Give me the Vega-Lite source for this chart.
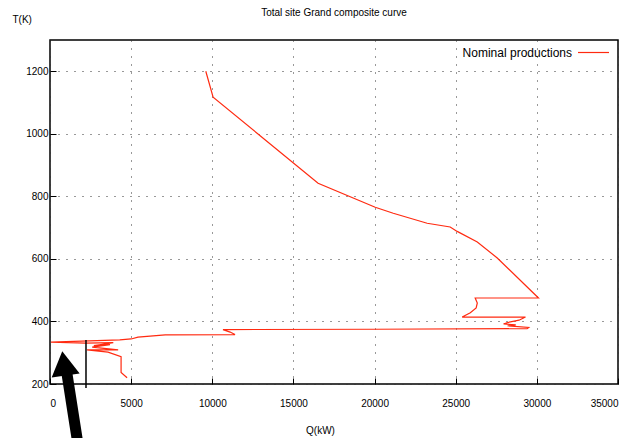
{
  "$schema": "https://vega.github.io/schema/vega-lite/v6.json",
  "width": 568,
  "height": 344,
  "autosize": {"type": "none"},
  "padding": {"left": 50, "top": 40, "right": 24, "bottom": 54},
  "background": "white",
  "config": {
    "font": "Liberation Sans",
    "view": {"stroke": "black", "strokeWidth": 1.5},
    "axis": {
      "labelFont": "Liberation Sans",
      "labelFontSize": 10,
      "labelColor": "black",
      "titleFont": "Liberation Sans",
      "titleFontSize": 10,
      "titleFontWeight": "normal",
      "titleColor": "black",
      "domain": false,
      "tickColor": "black",
      "tickSize": -6,
      "tickWidth": 1,
      "grid": true,
      "gridColor": "#333333",
      "gridDash": [1, 7],
      "gridWidth": 1,
      "gridOpacity": 1
    }
  },
  "title": {
    "text": "Total site Grand composite curve",
    "font": "Liberation Sans",
    "fontSize": 10,
    "fontWeight": "normal",
    "color": "black",
    "anchor": "middle",
    "frame": "group",
    "offset": -4
  },
  "datasets": {
    "curve": [
      {"i": 1, "Q": 9600, "T": 1200, "s": "Nominal productions"},
      {"i": 2, "Q": 10050, "T": 1117, "s": "Nominal productions"},
      {"i": 3, "Q": 12760, "T": 1002, "s": "Nominal productions"},
      {"i": 4, "Q": 16520, "T": 842, "s": "Nominal productions"},
      {"i": 5, "Q": 20040, "T": 765, "s": "Nominal productions"},
      {"i": 6, "Q": 21150, "T": 746, "s": "Nominal productions"},
      {"i": 7, "Q": 23240, "T": 714, "s": "Nominal productions"},
      {"i": 8, "Q": 24660, "T": 702, "s": "Nominal productions"},
      {"i": 9, "Q": 25090, "T": 688, "s": "Nominal productions"},
      {"i": 10, "Q": 26330, "T": 654, "s": "Nominal productions"},
      {"i": 11, "Q": 27560, "T": 603, "s": "Nominal productions"},
      {"i": 12, "Q": 30100, "T": 475, "s": "Nominal productions"},
      {"i": 13, "Q": 26200, "T": 475, "s": "Nominal productions"},
      {"i": 14, "Q": 26330, "T": 459, "s": "Nominal productions"},
      {"i": 15, "Q": 26260, "T": 443, "s": "Nominal productions"},
      {"i": 16, "Q": 25900, "T": 428, "s": "Nominal productions"},
      {"i": 17, "Q": 25400, "T": 414, "s": "Nominal productions"},
      {"i": 18, "Q": 29300, "T": 414, "s": "Nominal productions"},
      {"i": 19, "Q": 28900, "T": 404, "s": "Nominal productions"},
      {"i": 20, "Q": 28150, "T": 396, "s": "Nominal productions"},
      {"i": 21, "Q": 27950, "T": 392, "s": "Nominal productions"},
      {"i": 22, "Q": 28700, "T": 389, "s": "Nominal productions"},
      {"i": 23, "Q": 28200, "T": 386, "s": "Nominal productions"},
      {"i": 24, "Q": 29500, "T": 381, "s": "Nominal productions"},
      {"i": 25, "Q": 29400, "T": 377, "s": "Nominal productions"},
      {"i": 26, "Q": 20000, "T": 375, "s": "Nominal productions"},
      {"i": 27, "Q": 10660, "T": 374, "s": "Nominal productions"},
      {"i": 28, "Q": 11100, "T": 366, "s": "Nominal productions"},
      {"i": 29, "Q": 11400, "T": 358, "s": "Nominal productions"},
      {"i": 30, "Q": 7100, "T": 357, "s": "Nominal productions"},
      {"i": 31, "Q": 5420, "T": 350, "s": "Nominal productions"},
      {"i": 32, "Q": 5000, "T": 344, "s": "Nominal productions"},
      {"i": 33, "Q": 4300, "T": 341, "s": "Nominal productions"},
      {"i": 34, "Q": 60, "T": 334, "s": "Nominal productions"},
      {"i": 35, "Q": 2200, "T": 331, "s": "Nominal productions"},
      {"i": 36, "Q": 3900, "T": 332, "s": "Nominal productions"},
      {"i": 37, "Q": 2700, "T": 323, "s": "Nominal productions"},
      {"i": 38, "Q": 3700, "T": 326, "s": "Nominal productions"},
      {"i": 39, "Q": 2600, "T": 318, "s": "Nominal productions"},
      {"i": 40, "Q": 4200, "T": 309, "s": "Nominal productions"},
      {"i": 41, "Q": 2280, "T": 309, "s": "Nominal productions"},
      {"i": 42, "Q": 3575, "T": 302, "s": "Nominal productions"},
      {"i": 43, "Q": 4380, "T": 287, "s": "Nominal productions"},
      {"i": 44, "Q": 4380, "T": 237, "s": "Nominal productions"},
      {"i": 45, "Q": 4750, "T": 220, "s": "Nominal productions"}
    ],
    "marker": [
      {"Q": 2218, "T": 340.6, "T2": 187}
    ],
    "shaft": [
      {"Q": 1048, "T": 232, "Q2": 1700, "T2": 15}
    ],
    "head": [
      {"Q": 860, "T": 266}
    ]
  },
  "layer": [
    {
      "data": {"name": "curve"},
      "mark": {"type": "line", "strokeWidth": 1.2, "interpolate": "linear"},
      "encoding": {
        "x": {
          "field": "Q", "type": "quantitative",
          "scale": {"domain": [0, 35000], "nice": false, "zero": false},
          "axis": {"values": [0, 5000, 10000, 15000, 20000, 25000, 30000, 35000], "format": "d", "title": "Q(kW)", "labelPadding": 20, "titleY": 46, "titleX": 270, "titleAlign": "center", "titleBaseline": "middle"}
        },
        "y": {
          "field": "T", "type": "quantitative",
          "scale": {"domain": [200, 1300], "nice": false, "zero": false},
          "axis": {"values": [200, 400, 600, 800, 1000, 1200], "format": "d", "title": "T(K)", "labelPadding": 8, "titleAngle": 0, "titleX": -38, "titleY": -21, "titleAlign": "left", "titleBaseline": "middle"}
        },
        "order": {"field": "i", "type": "quantitative"},
        "color": {
          "field": "s", "type": "nominal",
          "scale": {"range": ["#ff2a10"]},
          "legend": {
            "title": null,
            "orient": "none",
            "legendX": 527,
            "legendY": -4,
            "symbolType": "stroke",
            "symbolSize": 961,
            "symbolStrokeWidth": 1.2,
            "labelAlign": "right",
            "labelOffset": -38,
            "labelFont": "Liberation Sans",
            "labelFontSize": 12,
            "labelColor": "black"
          }
        }
      }
    },
    {
      "data": {"name": "marker"},
      "mark": {"type": "rule", "color": "black", "strokeWidth": 1.5},
      "encoding": {
        "x": {"field": "Q", "type": "quantitative"},
        "y": {"field": "T", "type": "quantitative"},
        "y2": {"field": "T2"}
      }
    },
    {
      "data": {"name": "shaft"},
      "mark": {"type": "rule", "color": "black", "strokeWidth": 11},
      "encoding": {
        "x": {"field": "Q", "type": "quantitative"},
        "x2": {"field": "Q2"},
        "y": {"field": "T", "type": "quantitative"},
        "y2": {"field": "T2"}
      }
    },
    {
      "data": {"name": "head"},
      "mark": {"type": "point", "shape": "triangle-up", "filled": true, "color": "black", "opacity": 1, "size": 800, "angle": -8},
      "encoding": {
        "x": {"field": "Q", "type": "quantitative"},
        "y": {"field": "T", "type": "quantitative"}
      }
    }
  ]
}
